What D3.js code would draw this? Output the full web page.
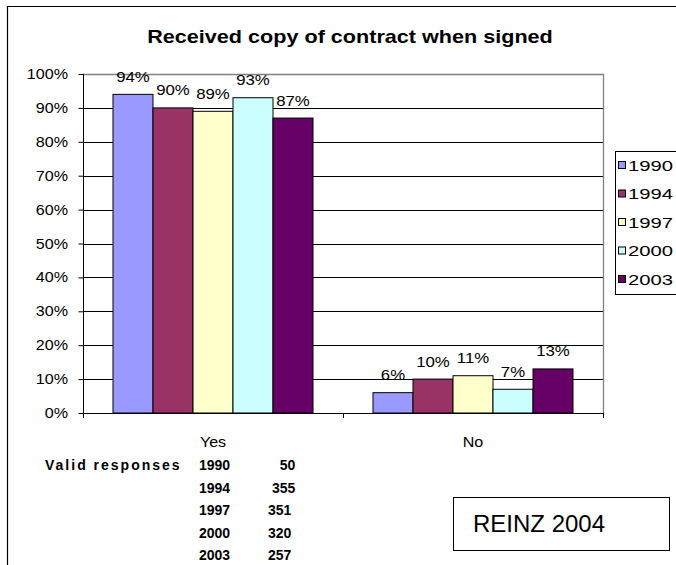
<!DOCTYPE html>
<html><head><meta charset="utf-8">
<script src="https://cdn.jsdelivr.net/npm/d3@7"></script>
<style>
html,body{margin:0;padding:0;background:#fff;}
svg{display:block;font-family:"Liberation Sans",Arial,sans-serif;}
</style></head>
<body>
<svg id="c" width="676" height="565"></svg>
<script>
const categories = ["Yes", "No"];
const years = ["1990", "1994", "1997", "2000", "2003"];
const yesValues = [0.94, 0.90, 0.89, 0.93, 0.87];
const noValues = [0.06, 0.10, 0.11, 0.07, 0.13];
const colors = ["#9999FF", "#993366", "#FFFFCC", "#CCFFFF", "#660066"];
const yTicks = [0, 0.1, 0.2, 0.3, 0.4, 0.5, 0.6, 0.7, 0.8, 0.9, 1.0];
const responseYears = ["1990", "1994", "1997", "2000", "2003"];
const responseCounts = ["\u00a0\u00a0\u00a050", "\u00a0355", "351", "320", "257"];
const title = "Received copy of contract when signed";
const note = "REINZ 2004";

const svg = d3.select("#c");
const series = [yesValues, noValues];

// outer chart border
svg.append("path").attr("d", "M7.5,565 V6.5 H676").attr("fill", "none").attr("stroke", "#000").attr("stroke-width", 1.2);

function stext(g, x, y, txt, size, sx, opts) {
  opts = opts || {};
  const t = g.append("text")
    .attr("transform", `translate(${x},${y}) scale(${sx},1)`)
    .attr("font-size", size)
    .attr("fill", "#000")
    .attr("text-anchor", opts.anchor || "start")
    .text(txt);
  if (opts.bold) t.attr("font-weight", "bold");
  if (opts.ls) t.attr("letter-spacing", opts.ls);
  return t;
}

const L = 83, R = 603, T = 74, B = 413;
const y = d3.scaleLinear().domain([0, 1]).range([B, T]);
const x0 = d3.scaleBand().domain(categories).range([L, R]);
const x1 = d3.scaleBand().domain(years).range([0, x0.bandwidth()]).paddingOuter(0.75);

// title
stext(svg, 350, 43, title, 18, 1.2, {anchor: "middle", bold: true});

// gridlines
svg.append("g").selectAll("line").data(yTicks.filter(d => d > 0 && d < 1)).join("line")
  .attr("x1", L).attr("x2", R)
  .attr("y1", d => Math.round(y(d)) + 0.5).attr("y2", d => Math.round(y(d)) + 0.5)
  .attr("stroke", "#000").attr("stroke-width", 1);

// plot border top & right (gray)
svg.append("path")
  .attr("d", `M${L},${Math.round(y(1)) + 0.5} H${R + 0.5} V${B}`)
  .attr("fill", "none").attr("stroke", "#808080").attr("stroke-width", 1.3);

// bars
categories.forEach((c, ci) => {
  const g = svg.append("g").attr("transform", `translate(${x0(c)},0)`);
  g.selectAll("rect").data(series[ci]).join("rect")
    .attr("x", (d, i) => x1(years[i]))
    .attr("y", d => y(d))
    .attr("width", x1.bandwidth())
    .attr("height", d => B - y(d))
    .attr("fill", (d, i) => colors[i])
    .attr("stroke", "#000").attr("stroke-width", 1);
  series[ci].forEach((d, i) => {
    stext(g, x1(years[i]) + x1.bandwidth() / 2, y(d) - 12.5, d3.format(".0%")(d), 14, 1.2, {anchor: "middle"});
  });
});

// y axis
const yAxis = d3.axisLeft(y).tickValues(yTicks).tickFormat(d3.format(".0%")).tickSize(5).tickPadding(0);
const ya = svg.append("g").attr("transform", `translate(${L + 0.5},0)`).call(yAxis);
ya.select(".domain").attr("stroke", "#000").attr("d", `M0,${T}V${B}`);
ya.selectAll(".tick line").attr("stroke", "#000");
ya.selectAll(".tick text").remove();
yTicks.forEach(d => {
  stext(svg, 68, y(d) + 5, d3.format(".0%")(d), 14, 1.15, {anchor: "end"});
});

// x axis
svg.append("line").attr("x1", L).attr("x2", R + 1).attr("y1", B + 0.5).attr("y2", B + 0.5).attr("stroke", "#000");
const bounds = categories.map(c => x0(c)).concat([x0(categories[categories.length - 1]) + x0.bandwidth()]);
svg.append("g").selectAll("line").data(bounds).join("line")
  .attr("x1", d => Math.round(d) + 0.5).attr("x2", d => Math.round(d) + 0.5)
  .attr("y1", B).attr("y2", B + 5).attr("stroke", "#000");
categories.forEach(c => {
  stext(svg, x0(c) + x0.bandwidth() / 2, 447, c, 14, 1.15, {anchor: "middle"});
});

// legend
const lg = svg.append("g");
lg.append("rect").attr("x", 615.5).attr("y", 151.5).attr("width", 90).attr("height", 143)
  .attr("fill", "#fff").attr("stroke", "#000");
years.forEach((yr, i) => {
  const cy = 165 + i * 28.5;
  lg.append("rect").attr("x", 618.5).attr("y", cy - 3.5).attr("width", 7).attr("height", 7)
    .attr("fill", colors[i]).attr("stroke", "#000");
  stext(lg, 628, cy + 5.5, yr, 15, 1.35);
});

// valid responses text
stext(svg, 45, 470, "Valid responses", 14, 1, {bold: true, ls: 2});
responseYears.forEach((yr, i) => {
  const by = 470 + i * 22.5;
  stext(svg, 199, by, yr, 14, 1, {bold: true});
  stext(svg, 268, by, responseCounts[i], 14, 1, {bold: true}).attr("xml:space", "preserve");
});

// note box
svg.append("rect").attr("x", 453.5).attr("y", 497.5).attr("width", 216).attr("height", 53)
  .attr("fill", "#fff").attr("stroke", "#000");
stext(svg, 473, 532, note, 24, 1);
</script>
</body></html>
